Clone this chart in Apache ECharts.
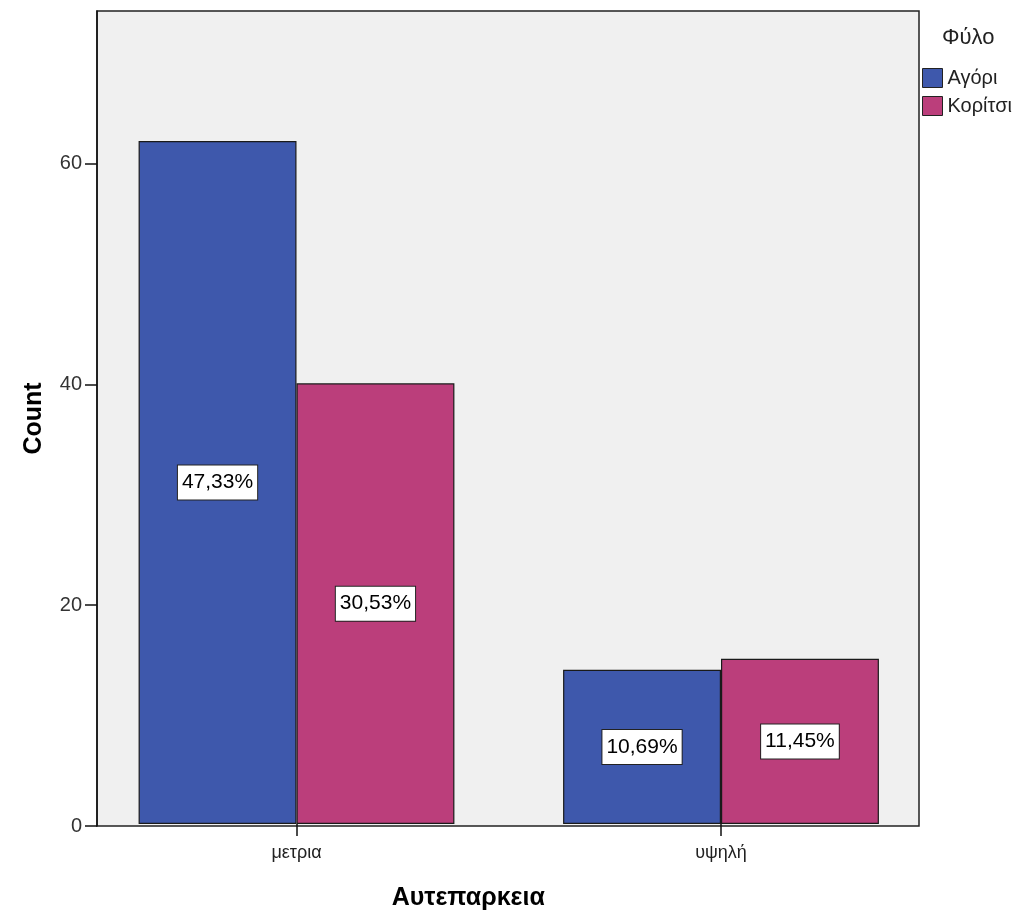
<!DOCTYPE html>
<html>
<head>
<meta charset="utf-8">
<script src="https://cdn.jsdelivr.net/npm/echarts@6/dist/echarts.min.js"></script>
<style>
html,body{margin:0;padding:0;background:#fff;}
#chart{width:1019px;height:916px;}
</style>
</head>
<body>
<div id="chart"></div>
<script>
const categories = ['μετρια', 'υψηλή'];
const seriesNames = ['Αγόρι', 'Κορίτσι'];
const boys = [62, 14];
const girls = [40, 15];
const yTicks = [0, 20, 40, 60];
const yMax = 73.8;
const legendTitle = 'Φύλο';
const xName = 'Αυτεπαρκεια';
const yName = 'Count';

const total = boys.concat(girls).reduce((a, b) => a + b, 0);
const fmt = p => (p.value / total * 100).toFixed(2).replace('.', ',') + '%';
const FONT = "'Liberation Sans', Arial, sans-serif";

const labelStyle = {
  show: true,
  position: 'inside',
  formatter: fmt,
  color: '#000',
  fontFamily: FONT,
  fontSize: 21,
  lineHeight: 22,
  backgroundColor: '#fff',
  borderColor: '#222',
  borderWidth: 1,
  padding: [6, 4, 6, 4]
};

const chart = echarts.init(document.getElementById('chart'));
chart.setOption({
  animation: false,
  backgroundColor: '#fff',
  textStyle: { fontFamily: FONT },
  title: {
    text: legendTitle,
    left: 942,
    top: 27,
    padding: 0,
    textStyle: { fontFamily: FONT, fontSize: 22, fontWeight: 'normal', color: '#222' }
  },
  legend: {
    orient: 'vertical',
    left: 922,
    top: 68,
    padding: 0,
    itemWidth: 20,
    itemHeight: 19,
    itemGap: 8,
    icon: 'rect',
    textStyle: { fontFamily: FONT, fontSize: 20, color: '#222', padding: [0, 0, 0, 0] },
    itemStyle: { borderColor: '#222', borderWidth: 1 },
    data: seriesNames
  },
  grid: [
    { left: 97, top: 11, width: 822, height: 815, show: true,
      backgroundColor: '#f0f0f0', borderColor: '#222', borderWidth: 1.5 },
    { left: 84.25, top: 11, width: 849, height: 815 }
  ],
  xAxis: [
    { gridIndex: 0, type: 'category', data: categories, show: false },
    { gridIndex: 1, type: 'category', data: categories,
      axisLine: { show: false },
      axisTick: { show: true, alignWithLabel: true, length: 12, lineStyle: { color: '#111', width: 1.5 } },
      axisLabel: { fontFamily: FONT, fontSize: 18, color: '#222', margin: 20 },
      name: xName,
      nameLocation: 'middle',
      nameGap: 62,
      nameTextStyle: { fontFamily: FONT, fontSize: 25, fontWeight: 'bold', color: '#000', padding: [0, 81, 0, 0] }
    }
  ],
  yAxis: [
    { gridIndex: 0, type: 'value', min: 0, max: yMax,
      axisLine: { show: true, lineStyle: { color: '#111', width: 1.5 } },
      axisTick: { show: true, length: 12, customValues: yTicks, lineStyle: { color: '#111', width: 1.5 } },
      axisLabel: { customValues: yTicks, fontFamily: FONT, fontSize: 20, color: '#333', margin: 15 },
      splitLine: { show: false },
      name: yName,
      nameLocation: 'middle',
      nameGap: 50,
      nameTextStyle: { fontFamily: FONT, fontSize: 25, fontWeight: 'bold', color: '#000' }
    },
    { gridIndex: 1, type: 'value', min: 0, max: yMax, show: false, splitLine: { show: false } }
  ],
  series: [
    { name: seriesNames[0], type: 'bar', xAxisIndex: 1, yAxisIndex: 1, data: boys,
      barGap: '0%', barCategoryGap: '25.6%',
      itemStyle: { color: '#3e58ac', borderColor: '#1a1a1a', borderWidth: 1.2 },
      label: labelStyle },
    { name: seriesNames[1], type: 'bar', xAxisIndex: 1, yAxisIndex: 1, data: girls,
      barGap: '0%', barCategoryGap: '25.6%',
      itemStyle: { color: '#bb3e7b', borderColor: '#1a1a1a', borderWidth: 1.2 },
      label: labelStyle }
  ]
});
</script>
</body>
</html>
